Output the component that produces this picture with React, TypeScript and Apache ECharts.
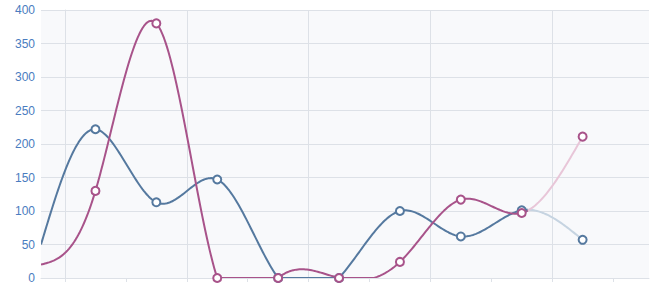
import React, { useEffect, useRef } from "react";
import * as echarts from "echarts";

// x slot of each point; ticks sit at integers (slot boundaries), first point sits on the axis start
const slots = [-0.394, 0.5, 1.5, 2.5, 3.5, 4.5, 5.5, 6.5, 7.5, 8.5];
const blueValues = [50, 222, 113, 147, 0, 0, 100, 62, 101, 57];
const pinkValues = [20, 130, 380, 0, 0, 0, 24, 117, 97, 211];
const tickValues = [0, 1, 2, 3, 4, 5, 6, 7, 8, 9];
const splitValues = [0, 2, 4, 6, 8];
const yTicks = [0, 50, 100, 150, 200, 250, 300, 350, 400];

const X_MIN = -0.394;
const X_MAX = 9.59;
const FADE_AT = 7.61; // x where the last segment turns pale

const BLUE = "#55799f";
const BLUE_LIGHT = "#c6d4e1";
const PINK = "#a8538a";
const PINK_LIGHT = "#e8c6d8";
const GRID = "#dde1e7";

// natural cubic spline control points (same scheme as d3.curveNatural)
function naturalCtrl(v: number[]) {
  const n = v.length - 1;
  const a: number[] = new Array(n);
  const b: number[] = new Array(n);
  const r: number[] = new Array(n);
  a[0] = 0; b[0] = 2; r[0] = v[0] + 2 * v[1];
  for (let i = 1; i < n - 1; i++) { a[i] = 1; b[i] = 4; r[i] = 4 * v[i] + 2 * v[i + 1]; }
  a[n - 1] = 2; b[n - 1] = 7; r[n - 1] = 8 * v[n - 1] + v[n];
  for (let i = 1; i < n; i++) { const m = a[i] / b[i - 1]; b[i] -= m; r[i] -= m * r[i - 1]; }
  a[n - 1] = r[n - 1] / b[n - 1];
  for (let i = n - 2; i >= 0; i--) a[i] = (r[i] - a[i + 1]) / b[i];
  b[n - 1] = (v[n] + a[n - 1]) / 2;
  for (let i = 0; i < n - 1; i++) b[i] = 2 * v[i + 1] - a[i + 1];
  return [a, b];
}

function curveRenderer(values: number[], dark: string, light: string) {
  return (params: any, api: any) => {
    if (params.dataIndex !== 0) return null;
    const pts = values.map((v, i) => api.coord([slots[i], v]));
    const xs = pts.map((p: number[]) => p[0]);
    const ys = pts.map((p: number[]) => p[1]);
    const [ax, bx] = naturalCtrl(xs);
    const [ay, by] = naturalCtrl(ys);
    const base = api.coord([X_MIN, yTicks[0]])[1];
    const top = api.coord([X_MIN, yTicks[yTicks.length - 1]])[1];
    const fx = api.coord([FADE_AT, 0])[0];
    const darkPts: number[][] = [[xs[0], ys[0]]];
    const lightPts: number[][] = [];
    const STEPS = 40;
    for (let i = 0; i < xs.length - 1; i++) {
      for (let s = 1; s <= STEPS; s++) {
        const t = s / STEPS;
        const u = 1 - t;
        const k0 = u * u * u, k1 = 3 * u * u * t, k2 = 3 * u * t * t, k3 = t * t * t;
        const x = k0 * xs[i] + k1 * ax[i] + k2 * bx[i] + k3 * xs[i + 1];
        let y = k0 * ys[i] + k1 * ay[i] + k2 * by[i] + k3 * ys[i + 1];
        y = Math.min(base, Math.max(top, y));
        if (x <= fx) {
          darkPts.push([x, y]);
        } else {
          if (lightPts.length === 0) lightPts.push(darkPts[darkPts.length - 1]);
          lightPts.push([x, y]);
        }
      }
    }
    return {
      type: "group",
      silent: true,
      children: [
        {
          type: "polyline",
          shape: { points: lightPts },
          style: { fill: null, stroke: light, lineWidth: 2, lineJoin: "round" },
        },
        {
          type: "polyline",
          shape: { points: darkPts },
          style: { fill: null, stroke: dark, lineWidth: 2, lineJoin: "round" },
        },
      ],
    };
  };
}

export default function App() {
  const ref = useRef<HTMLDivElement>(null);
  useEffect(() => {
    document.body.style.margin = "0";
    if (!ref.current) return;
    const chart = echarts.init(ref.current, undefined, { renderer: "svg" });
    const mk = (vals: number[]) => vals.map((v, i) => [slots[i], v]);
    const symbolData = (vals: number[]) => mk(vals).slice(1);
    chart.setOption({
      animation: false,
      backgroundColor: "#ffffff",
      grid: {
        left: 41,
        right: 5,
        top: 10,
        bottom: 3,
        show: true,
        backgroundColor: "#f8f9fb",
        borderWidth: 0,
      },
      xAxis: [
        {
          type: "value",
          min: X_MIN,
          max: X_MAX,
          axisLine: { show: true, lineStyle: { color: GRID, width: 1 } },
          axisTick: { show: true, customValues: tickValues, length: 4, lineStyle: { color: GRID } },
          axisLabel: { show: false },
          splitLine: { show: false },
        },
        {
          type: "value",
          position: "bottom",
          min: X_MIN,
          max: X_MAX,
          axisLine: { show: false },
          axisTick: { show: false, customValues: splitValues },
          axisLabel: { show: false, customValues: splitValues },
          splitLine: { show: true, lineStyle: { color: GRID, width: 1 } },
        },
      ],
      yAxis: {
        type: "value",
        min: yTicks[0],
        max: yTicks[yTicks.length - 1],
        interval: 50,
        axisLine: { show: true, lineStyle: { color: GRID } },
        axisTick: { show: false },
        axisLabel: {
          color: "#4a7cc0",
          fontSize: 12,
          fontFamily: "Liberation Sans, Arial, sans-serif",
          margin: 6,
        },
        splitLine: { show: true, lineStyle: { color: GRID, width: 1 } },
      },
      series: [
        {
          type: "custom",
          name: "blue",
          coordinateSystem: "cartesian2d",
          data: mk(blueValues),
          renderItem: curveRenderer(blueValues, BLUE, BLUE_LIGHT),
          clip: true,
          z: 2,
        },
        {
          type: "custom",
          name: "pink",
          coordinateSystem: "cartesian2d",
          data: mk(pinkValues),
          renderItem: curveRenderer(pinkValues, PINK, PINK_LIGHT),
          clip: true,
          z: 3,
        },
        {
          type: "scatter",
          data: symbolData(blueValues),
          symbol: "circle",
          symbolSize: 8,
          itemStyle: { color: "#ffffff", borderColor: BLUE, borderWidth: 2, opacity: 1 },
          z: 4,
        },
        {
          type: "scatter",
          data: symbolData(pinkValues),
          symbol: "circle",
          symbolSize: 8,
          itemStyle: { color: "#ffffff", borderColor: PINK, borderWidth: 2, opacity: 1 },
          z: 5,
        },
      ],
    });
    return () => chart.dispose();
  }, []);
  return <div ref={ref} style={{ width: 654, height: 284 }} />;
}
